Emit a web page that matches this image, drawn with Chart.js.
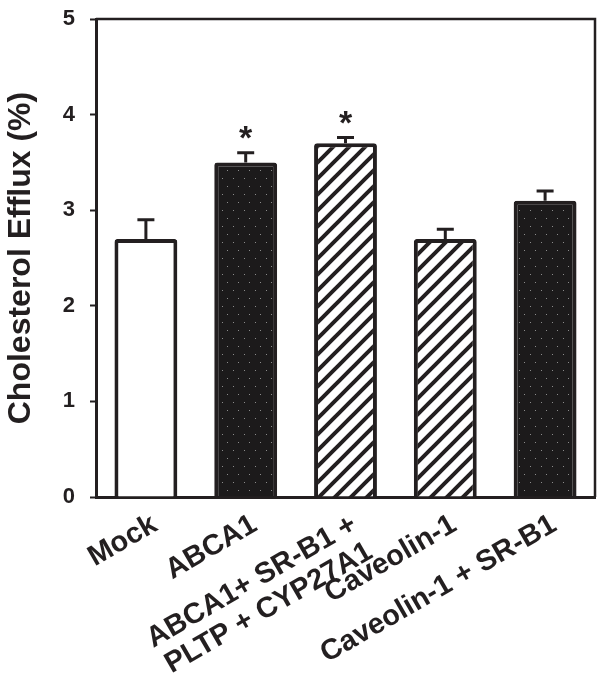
<!DOCTYPE html>
<html lang="en">
<head>
    <meta charset="UTF-8">
    <title>Cholesterol Efflux</title>
    <style>
        body {
            margin: 0;
            background: #fff;
        }
        #wrap {
            width: 604px;
            height: 681px;
        }
    </style>
</head>
<body>
    <div id="wrap">
        <canvas id="effluxChart" width="604" height="681"></canvas>
    </div>

    <script src="https://cdn.jsdelivr.net/npm/chart.js"></script>

    <script>
        // data
        var categories = ['Mock', 'ABCA1', ['ABCA1+ SR-B1 +', 'PLTP + CYP27A1'], 'Caveolin-1', 'Caveolin-1 + SR-B1'];
        var efflux = [2.7, 3.5, 3.7, 2.7, 3.1];
        var errors = [0.2, 0.1, 0.06, 0.1, 0.1];
        var significant = [false, true, true, false, false];
        var fills = ['open', 'dots', 'hatch', 'hatch', 'dots'];
        var yTicks = [0, 1, 2, 3, 4, 5];

        var ink = '#231f20';
        var fontFam = '"Liberation Sans", Arial, sans-serif';

        // fill patterns
        function makeDots() {
            var c = document.createElement('canvas');
            c.width = 11; c.height = 16;
            var g = c.getContext('2d');
            g.fillStyle = '#1c1a1b';
            g.fillRect(0, 0, 11, 16);
            g.fillStyle = '#8c8c8c';
            g.fillRect(2, 2, 1, 1);
            g.fillRect(7, 10, 1, 1);
            return g.createPattern(c, 'repeat');
        }
        function makeHatch() {
            var c = document.createElement('canvas');
            c.width = 16; c.height = 16;
            var g = c.getContext('2d');
            g.fillStyle = '#fff';
            g.fillRect(0, 0, 16, 16);
            g.strokeStyle = ink;
            g.lineWidth = 4;
            g.beginPath();
            g.moveTo(-4, 20); g.lineTo(20, -4);
            g.moveTo(-12, 12); g.lineTo(12, -12);
            g.moveTo(4, 28); g.lineTo(28, 4);
            g.stroke();
            return g.createPattern(c, 'repeat');
        }
        var dots = makeDots();
        var hatch = makeHatch();
        var barFills = fills.map(function (f) {
            if (f === 'dots') return dots;
            if (f === 'hatch') return hatch;
            return '#fff';
        });

        // top and right frame of the plot box
        var framePlugin = {
            id: 'frame',
            afterDraw: function (chart) {
                var a = chart.chartArea, g = chart.ctx;
                g.save();
                g.strokeStyle = ink;
                g.lineWidth = 2.5;
                g.beginPath();
                g.moveTo(a.left, a.top);
                g.lineTo(a.right, a.top);
                g.lineTo(a.right, a.bottom);
                g.stroke();
                g.restore();
            }
        };

        // upper error bars and asterisks
        var errorPlugin = {
            id: 'errorBars',
            afterDatasetsDraw: function (chart) {
                var g = chart.ctx;
                var y = chart.scales.y;
                var meta = chart.getDatasetMeta(0);
                g.save();
                g.strokeStyle = ink;
                g.fillStyle = ink;
                g.lineWidth = 3;
                meta.data.forEach(function (bar, i) {
                    var top = y.getPixelForValue(efflux[i]);
                    var hi = y.getPixelForValue(efflux[i] + errors[i]);
                    g.beginPath();
                    g.moveTo(bar.x, top);
                    g.lineTo(bar.x, hi);
                    g.moveTo(bar.x - 8.5, hi);
                    g.lineTo(bar.x + 8.5, hi);
                    g.stroke();
                    if (significant[i]) {
                        g.font = 'bold 34px ' + fontFam;
                        g.textAlign = 'center';
                        g.textBaseline = 'middle';
                        g.fillText('*', bar.x, hi - 13);
                    }
                });
                g.restore();
            }
        };

        var ctx = document.getElementById('effluxChart').getContext('2d');
        var effluxChart = new Chart(ctx, {
            type: 'bar',
            data: {
                labels: categories,
                datasets: [{
                    data: efflux,
                    backgroundColor: barFills,
                    borderColor: ink,
                    borderWidth: 4,
                    borderRadius: { topLeft: 3, topRight: 3 },
                    borderSkipped: 'start',
                    barPercentage: 0.63,
                    categoryPercentage: 1
                }]
            },
            options: {
                responsive: false,
                animation: false,
                events: [],
                layout: {
                    padding: { left: 2, right: 9, top: 19, bottom: 0 }
                },
                plugins: {
                    legend: { display: false },
                    tooltip: { enabled: false }
                },
                scales: {
                    x: {
                        grid: { display: false, drawTicks: false },
                        border: { display: true, color: ink, width: 3 },
                        ticks: {
                            color: ink,
                            font: { family: fontFam, size: 29, weight: 'bold', lineHeight: 1.08 },
                            minRotation: 30,
                            maxRotation: 30,
                            padding: 12,
                            labelOffset: 9,
                            autoSkip: false
                        },
                        afterFit: function (s) { s.height = 184; }
                    },
                    y: {
                        min: 0,
                        max: 5,
                        afterBuildTicks: function (s) {
                            s.ticks = yTicks.map(function (v) { return { value: v }; });
                        },
                        grid: {
                            drawOnChartArea: false,
                            drawTicks: true,
                            tickLength: 6,
                            tickWidth: 2,
                            tickColor: ink
                        },
                        border: { display: true, color: ink, width: 3 },
                        ticks: {
                            color: ink,
                            padding: 15,
                            font: { family: fontFam, size: 22, weight: 'bold' }
                        },
                        title: {
                            display: true,
                            text: 'Cholesterol Efflux (%)',
                            color: ink,
                            font: { family: fontFam, size: 32, weight: 'bold' },
                            padding: 0
                        },
                        afterFit: function (s) {
                            s.width = 94;
                            s.paddingTop = 0;
                            s.paddingBottom = 0;
                        }
                    }
                }
            },
            plugins: [framePlugin, errorPlugin]
        });
    </script>
</body>
</html>
